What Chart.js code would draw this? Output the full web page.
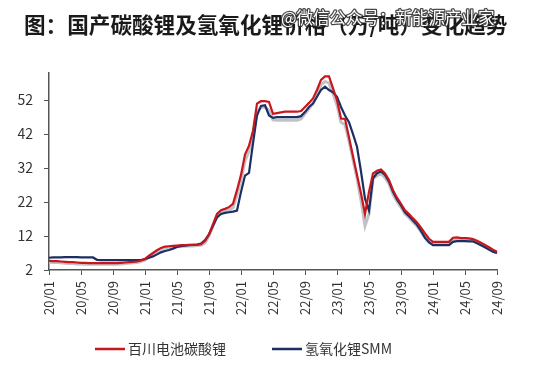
<!DOCTYPE html>
<html lang="zh">
<head>
<meta charset="UTF-8">
<title>国产碳酸锂及氢氧化锂价格</title>
<script src="https://cdn.jsdelivr.net/npm/chart.js"></script>
<style>
    html, body { margin: 0; padding: 0; background: #fff; }
    #wrap { width: 534px; height: 373px; }
</style>
</head>
<body>
<div id="wrap"><canvas id="myChart" width="534" height="373"></canvas></div>
<script>
    // 半月一个点，2020/01 ~ 2024/09
    var tickLabels = ['20/01', '20/05', '20/09', '21/01', '21/05', '21/09', '22/01', '22/05',
                      '22/09', '23/01', '23/05', '23/09', '24/01', '24/05', '24/09'];
    var yTicks = [2, 12, 22, 32, 42, 52];

    // 百川电池碳酸锂（万/吨）
    var lithiumCarbonate = [
        4.7, 4.6, 4.6, 4.5, 4.4, 4.3, 4.3, 4.2,
        4.1, 4.1, 4.0, 4.0, 4.0, 4.0, 4.0, 4.0,
        4.0, 4.0, 4.1, 4.2, 4.3, 4.4, 4.5, 4.8,
        5.3, 6.2, 7.0, 7.8, 8.5, 8.9, 9.0, 9.1,
        9.2, 9.3, 9.3, 9.4, 9.4, 9.4, 9.6, 10.5,
        12.5, 15.5, 18.5, 19.6, 20.0, 20.5, 21.5, 25.5,
        30.0, 36.0, 38.6, 43.0, 51.0, 51.7, 51.7, 51.5,
        48.0, 48.2, 48.4, 48.6, 48.6, 48.6, 48.6, 48.8,
        50.0, 51.2, 52.5, 55.0, 58.0, 59.0, 59.0, 55.5,
        52.0, 46.6, 46.5, 41.0, 35.5, 30.0, 24.5, 18.5,
        25.0, 30.4, 31.2, 31.6, 30.4, 28.5, 25.5, 23.3,
        21.5, 19.6, 18.5, 17.2, 16.0, 14.5, 12.8, 11.2,
        10.3, 10.3, 10.3, 10.3, 10.3, 11.5, 11.6, 11.4,
        11.4, 11.3, 11.1, 10.6, 10.0, 9.4, 8.7, 8.0,
        7.4
    ];

    // 氢氧化锂SMM（万/吨）
    var lithiumHydroxide = [
        5.6, 5.7, 5.7, 5.7, 5.8, 5.8, 5.8, 5.8,
        5.7, 5.7, 5.7, 5.7, 5.0, 4.9, 4.9, 4.9,
        4.9, 4.9, 4.9, 4.9, 4.9, 4.9, 4.9, 4.9,
        5.2, 5.6, 6.0, 6.6, 7.2, 7.6, 7.9, 8.3,
        8.8, 9.0, 9.2, 9.3, 9.4, 9.5, 9.8, 10.8,
        12.5, 15.0, 17.5, 18.5, 18.8, 19.0, 19.2, 19.5,
        25.0, 29.8, 30.6, 39.3, 47.5, 50.3, 50.5, 47.5,
        46.8, 47.0, 47.0, 47.0, 47.0, 47.0, 47.0, 47.3,
        48.5, 50.0, 51.0, 53.0, 55.0, 56.0, 55.0, 54.3,
        53.0, 50.0, 47.5, 45.5, 42.0, 38.3, 31.0, 23.0,
        19.5, 29.0, 30.5, 31.0, 30.0, 28.0, 25.0, 22.8,
        21.0, 19.0, 17.8, 16.6, 15.3, 13.5, 11.5, 10.2,
        9.3, 9.3, 9.3, 9.3, 9.3, 10.3, 10.5, 10.5,
        10.5, 10.4, 10.4, 9.9, 9.3, 8.7, 8.0, 7.4,
        7.0
    ];

    // 浅灰色线（图中未标注）
    var grayLine = [
        4.3, 4.2, 4.2, 4.1, 4.0, 3.9, 3.9, 3.8,
        3.8, 3.7, 3.7, 3.7, 3.7, 3.7, 3.7, 3.7,
        3.7, 3.7, 3.8, 3.9, 4.0, 4.1, 4.2, 4.5,
        5.0, 5.8, 6.6, 7.4, 8.0, 8.5, 8.7, 8.8,
        8.9, 9.0, 9.0, 9.1, 9.1, 9.2, 9.3, 10.0,
        12.0, 15.0, 17.8, 18.8, 19.2, 19.6, 20.3, 24.0,
        28.5, 34.0, 37.0, 41.5, 48.5, 49.8, 50.0, 49.0,
        46.2, 46.1, 46.1, 46.1, 46.1, 46.1, 46.1, 46.5,
        48.0, 49.5, 51.0, 53.5, 56.5, 57.5, 57.0, 54.0,
        50.5, 45.5, 44.8, 40.0, 34.5, 29.0, 22.5, 15.0,
        18.5, 28.8, 29.8, 30.3, 29.2, 27.3, 24.3, 22.2,
        20.4, 18.5, 17.4, 16.1, 14.9, 13.2, 11.5, 10.0,
        9.6, 9.6, 9.6, 9.6, 9.6, 10.7, 10.8, 10.8,
        10.8, 10.7, 10.6, 10.1, 9.5, 8.8, 8.1, 7.5,
        7.0
    ];

    // 日期类别（每月上半月、下半月）
    var dates = [];
    for (var y = 2020; y <= 2024; y++) {
        for (var mo = 1; mo <= 12; mo++) {
            var mm = (mo < 10 ? '0' : '') + mo;
            dates.push(y + '-' + mm + '-01');
            dates.push(y + '-' + mm + '-16');
        }
    }
    dates = dates.slice(0, lithiumCarbonate.length);

    var titleText = '图：国产碳酸锂及氢氧化锂价格（万/吨）变化趋势';
    var watermarkText = '@微信公众号：新能源产业家';
    var fontFamily = '"Noto Sans CJK SC", "Noto Sans", sans-serif';

    // 标题、水印、图例（自己画，方便控制位置）
    var decorations = {
        id: 'decorations',
        afterDraw: function(chart) {
            var ctx = chart.ctx;
            ctx.save();

            // 标题
            ctx.font = 'bold 21.6px ' + fontFamily;
            ctx.textBaseline = 'middle';
            ctx.textAlign = 'left';
            ctx.fillStyle = '#1a1a1a';
            ctx.fillText(titleText, 24, 25);

            // 水印
            ctx.font = '16.5px ' + fontFamily;
            ctx.lineWidth = 2.5;
            ctx.lineJoin = 'round';
            ctx.strokeStyle = 'rgba(40,40,40,0.85)';
            ctx.fillStyle = '#ffffff';
            ctx.strokeText(watermarkText, 281, 18);
            ctx.fillText(watermarkText, 281, 18);

            // 图例（不含灰线）
            var legendX = [95, 272];
            ctx.font = '14px ' + fontFamily;
            for (var i = 0; i < 2; i++) {
                var ds = chart.data.datasets[i];
                ctx.strokeStyle = ds.borderColor;
                ctx.lineWidth = 2.5;
                ctx.beginPath();
                ctx.moveTo(legendX[i], 349);
                ctx.lineTo(legendX[i] + 30, 349);
                ctx.stroke();
                ctx.fillStyle = '#333';
                ctx.fillText(ds.label, legendX[i] + 33, 349);
            }
            ctx.restore();
        }
    };

    var ctx = document.getElementById('myChart').getContext('2d');
    var myChart = new Chart(ctx, {
        type: 'line',
        data: {
            labels: dates,
            datasets: [
                {
                    label: '百川电池碳酸锂',
                    data: lithiumCarbonate,
                    borderColor: '#c8161d',
                    backgroundColor: '#c8161d',
                    borderWidth: 2.2,
                    pointRadius: 0,
                    tension: 0
                },
                {
                    label: '氢氧化锂SMM',
                    data: lithiumHydroxide,
                    borderColor: '#1b2f63',
                    backgroundColor: '#1b2f63',
                    borderWidth: 2.2,
                    pointRadius: 0,
                    tension: 0
                },
                {
                    label: '',
                    data: grayLine,
                    borderColor: '#c2c2c6',
                    backgroundColor: '#c2c2c6',
                    borderWidth: 3,
                    pointRadius: 0,
                    tension: 0
                }
            ]
        },
        options: {
            responsive: false,
            animation: false,
            layout: { padding: { left: 8, right: 37, top: 73, bottom: 51 } },
            plugins: {
                tooltip: { enabled: false },
                title: { display: false },
                legend: { display: false }
            },
            scales: {
                x: {
                    grid: { display: true, drawOnChartArea: false, drawTicks: true, tickLength: 5, color: '#555' },
                    border: { display: true, color: '#555', width: 1.5 },
                    ticks: {
                        autoSkip: false,
                        maxRotation: 90,
                        minRotation: 90,
                        padding: 6,
                        color: '#333',
                        font: { family: fontFamily, size: 13 },
                        callback: function(value, index) {
                            return index % 8 === 0 ? tickLabels[index / 8] : null;
                        }
                    },
                    afterFit: function(scale) { scale.height = 52; }
                },
                y: {
                    min: 2,
                    max: 60,
                    grid: { display: true, drawOnChartArea: false, drawTicks: true, tickLength: 5, color: '#555' },
                    border: { display: true, color: '#555', width: 1.5 },
                    ticks: {
                        padding: 11,
                        color: '#333',
                        font: { family: fontFamily, size: 14 }
                    },
                    afterBuildTicks: function(scale) {
                        scale.ticks = yTicks.map(function(v) { return { value: v }; });
                    },
                    afterFit: function(scale) { scale.width = 41; }
                }
            }
        },
        plugins: [decorations]
    });
</script>
</body>
</html>
